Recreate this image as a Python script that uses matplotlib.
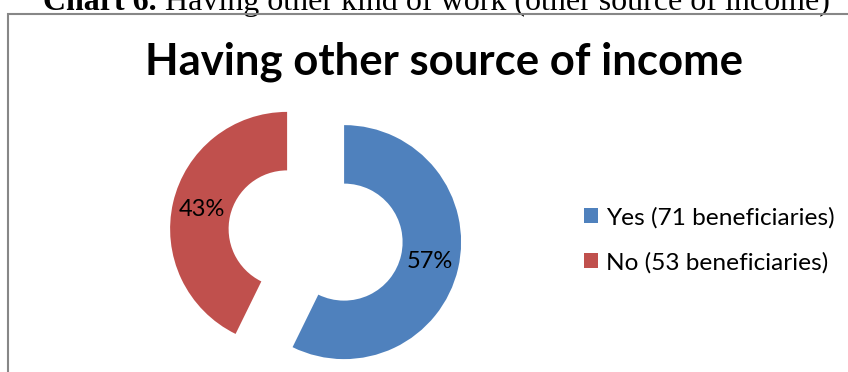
import matplotlib
matplotlib.use('Agg')
import matplotlib.pyplot as plt
from matplotlib.patches import Rectangle

# data
labels = ['Yes (71 beneficiaries)', 'No (53 beneficiaries)']
counts = [71, 53]
colors = ['#4F81BD', '#C0504D']
title = 'Having other source of income'
caption_bold = 'Chart 6.'
caption_rest = ' Having other kind of work (other source of income)'

W, H = 848, 372
fig = plt.figure(figsize=(W / 100, H / 100), dpi=100)

# donut
cx, cy, R = 315.6, H - 235.5, 117.0
S = 300.0
ax = fig.add_axes([(cx - S / 2) / W, (cy - S / 2) / H, S / W, S / H])
wedges, _, autotexts = ax.pie(
    counts, colors=colors, startangle=90, counterclock=False,
    explode=[0.25, 0.25], radius=1.0, autopct='%.0f%%', pctdistance=0.75,
    wedgeprops=dict(width=0.5, edgecolor='none'),
    textprops=dict(family='Lato', fontsize=17, color='black'))
lim = S / 2 / R
ax.set_xlim(-lim, lim)
ax.set_ylim(-lim, lim)
ax.set_aspect('equal')
ax.axis('off')

# caption (cut off at the top of the picture, like the source)
t1 = fig.text(43 / W, (H - 10) / H, caption_bold, family='Liberation Serif',
              fontweight='bold', fontsize=23, va='baseline', ha='left')
ax.annotate(caption_rest, xy=(1, 0), xycoords=t1, va='bottom', ha='left',
            family='Liberation Serif', fontsize=23, annotation_clip=False)

# chart area border
fig.patches.append(Rectangle((8 / W, -0.1), 1.2, (H - 14) / H + 0.1,
                             transform=fig.transFigure, fill=False,
                             edgecolor='#878787', linewidth=1.5, zorder=0))

fig.text(444 / W, (H - 74) / H, title, family='Lato', fontweight='bold',
         fontsize=31.4, ha='center', va='baseline')

fig.legend(wedges, labels, loc='center left',
           bbox_to_anchor=(584 / W, (H - 240) / H),
           frameon=False, borderpad=0, borderaxespad=0,
           prop=dict(family='Lato', size=17.6),
           handlelength=0.57, handleheight=0.57, handletextpad=0.33,
           labelspacing=0.95)

fig.savefig('out.png', dpi=100)
